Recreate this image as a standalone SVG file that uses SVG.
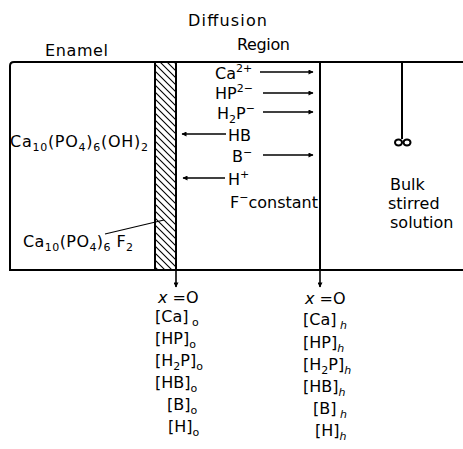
<svg xmlns="http://www.w3.org/2000/svg" width="463" height="449" viewBox="0 0 463 449">
<style>
text{font-family:"DejaVu Sans","Liberation Sans",sans-serif;font-size:16px;fill:#000}
.s{font-size:11px}
.ln{stroke:#000;stroke-width:2;fill:none}
.ar{stroke:#000;stroke-width:1.6;fill:none;marker-end:url(#ah)}
.i{font-style:italic}
</style>
<defs>
<marker id="ah" viewBox="0 0 10 10" refX="9" refY="5" markerWidth="7" markerHeight="5" markerUnits="userSpaceOnUse" orient="auto">
<path d="M0,0 L10,5 L0,10 z" fill="#000"/>
</marker>
<pattern id="hatch" patternUnits="userSpaceOnUse" width="7" height="7">
<path d="M-1,-1 L8,8 M-8,-1 L1,8 M6,-1 L15,8" stroke="#000" stroke-width="1.1"/>
</pattern>
</defs>
<g id="frame">
<path class="ln" d="M463,62 L14,62 Q10,62 10,66 L10,270 L463,270"/>
<rect id="barrier" x="155" y="62" width="21" height="208" fill="url(#hatch)" stroke="#000" stroke-width="2"/>
<line class="ln" x1="320" y1="62" x2="320" y2="270"/>
</g>
<g id="stirrer">
<line class="ln" x1="402" y1="62" x2="402" y2="139"/>
<ellipse cx="398.5" cy="142.5" rx="3.5" ry="3" fill="none" stroke="#000" stroke-width="2"/>
<ellipse cx="407" cy="142.5" rx="3.5" ry="3" fill="none" stroke="#000" stroke-width="2"/>
</g>
<g id="connectors">
<line class="ar" x1="260" y1="72" x2="313" y2="72"/>
<line class="ar" x1="263" y1="93" x2="313" y2="93"/>
<line class="ar" x1="263" y1="112" x2="313" y2="112"/>
<line class="ar" x1="226" y1="134" x2="182" y2="134"/>
<line class="ar" x1="263" y1="155" x2="313" y2="155"/>
<line class="ar" x1="225" y1="178" x2="183" y2="178"/>
<line x1="105" y1="234" x2="164" y2="220" stroke="#000" stroke-width="1.2"/>
<line class="ar" x1="176" y1="270" x2="176" y2="287"/>
<line class="ar" x1="320" y1="270" x2="320" y2="287"/>
</g>
<g id="headers">
<text x="188" y="26" textLength="79">Diffusion</text>
<text x="45" y="56" textLength="63">Enamel</text>
<text x="237" y="50" textLength="53">Region</text>
</g>
<g id="ions">
<text x="215" y="79">Ca<tspan class="s" dy="-7">2+</tspan></text>
<text x="215" y="99">HP<tspan class="s" dy="-7">2−</tspan></text>
<text x="217" y="119">H<tspan class="s" dy="4">2</tspan><tspan dy="-4">P</tspan><tspan class="s" dy="-7">−</tspan></text>
<text x="228" y="141">HB</text>
<text x="232" y="162">B<tspan class="s" dy="-6">−</tspan></text>
<text x="228" y="185">H<tspan class="s" dy="-7">+</tspan></text>
<text x="230" y="208">F<tspan class="s" dy="-7">−</tspan><tspan dy="7">constant</tspan></text>
</g>
<g id="enamel-labels">
<text x="10" y="147" textLength="138">Ca<tspan class="s" dy="4">10</tspan><tspan dy="-4">(PO</tspan><tspan class="s" dy="4">4</tspan><tspan dy="-4">)</tspan><tspan class="s" dy="4">6</tspan><tspan dy="-4">(OH)</tspan><tspan class="s" dy="4">2</tspan></text>
<text x="23" y="247" textLength="110">Ca<tspan class="s" dy="4">10</tspan><tspan dy="-4">(PO</tspan><tspan class="s" dy="4">4</tspan><tspan dy="-4">)</tspan><tspan class="s" dy="4">6</tspan><tspan dy="-4"> F</tspan><tspan class="s" dy="4">2</tspan></text>
</g>
<g id="bulk">
<text x="390" y="190">Bulk</text>
<text x="388" y="209">stirred</text>
<text x="390" y="228">solution</text>
</g>
<g id="left-conc">
<text x="158" y="303"><tspan class="i">x</tspan> =O</text>
<text x="155" y="322">[Ca]<tspan class="s" dy="4"> o</tspan></text>
<text x="155" y="344">[HP]<tspan class="s" dy="4">o</tspan></text>
<text x="155" y="366">[H<tspan class="s" dy="4">2</tspan><tspan dy="-4">P]</tspan><tspan class="s" dy="4">o</tspan></text>
<text x="155" y="388">[HB]<tspan class="s" dy="4">o</tspan></text>
<text x="167" y="410">[B]<tspan class="s" dy="4">o</tspan></text>
<text x="168" y="432">[H]<tspan class="s" dy="4">o</tspan></text>
</g>
<g id="right-conc">
<text x="305" y="304"><tspan class="i">x</tspan> =O</text>
<text x="303" y="325">[Ca]<tspan class="s i" dy="4"> h</tspan></text>
<text x="303" y="348">[HP]<tspan class="s i" dy="4">h</tspan></text>
<text x="303" y="370">[H<tspan class="s" dy="4">2</tspan><tspan dy="-4">P]</tspan><tspan class="s i" dy="4">h</tspan></text>
<text x="303" y="392">[HB]<tspan class="s i" dy="4">h</tspan></text>
<text x="313" y="414">[B]<tspan class="s i" dy="4"> h</tspan></text>
<text x="315" y="436">[H]<tspan class="s i" dy="4">h</tspan></text>
</g>
</svg>
